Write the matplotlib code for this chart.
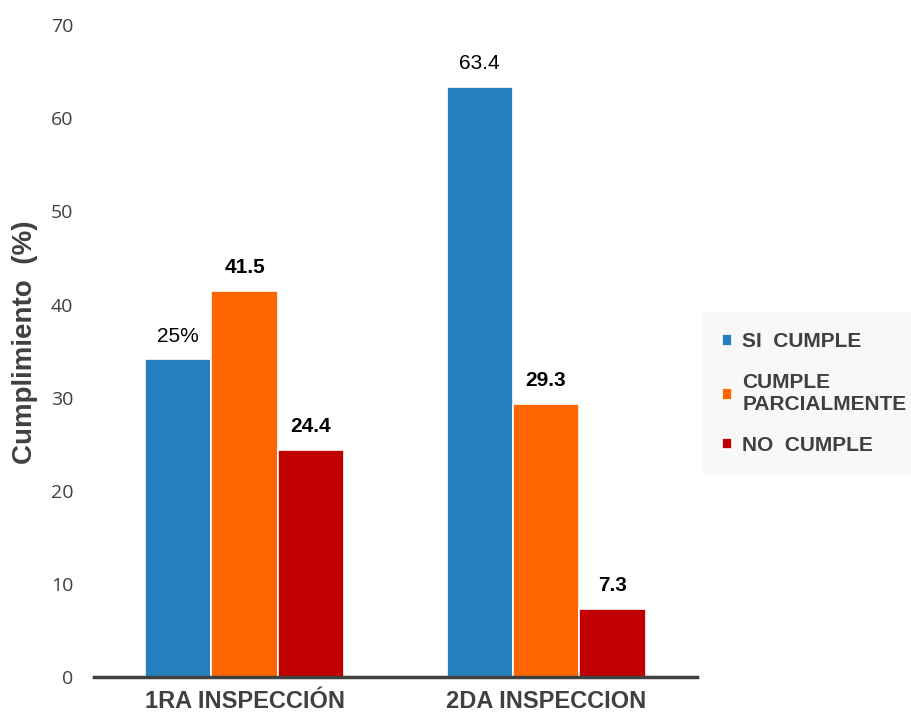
import matplotlib
matplotlib.use("Agg")
import matplotlib.pyplot as plt
import numpy as np

categories = ["1RA INSPECCIÓN", "2DA INSPECCION"]
series_names = ["SI  CUMPLE", "CUMPLE\nPARCIALMENTE", "NO  CUMPLE"]
si_cumple = [34.1, 63.4]
parcial = [41.5, 29.3]
no_cumple = [24.4, 7.3]
labels_si = ["25%", "63.4"]
labels_parcial = ["41.5", "29.3"]
labels_no = ["24.4", "7.3"]
yticks = [0, 10, 20, 30, 40, 50, 60, 70]

colors = ["#2481bd", "#ff6600", "#c00000"]
grey = "#404040"

fig = plt.figure(figsize=(9.12, 7.18), dpi=100)
ax = fig.add_axes([0.103, 0.057, 0.661, 0.908])

x = np.arange(len(categories))
w = 0.22
series = [si_cumple, parcial, no_cumple]
labels = [labels_si, labels_parcial, labels_no]
bold = [[False, False], [True, True], [True, True]]
for i, (vals, lab) in enumerate(zip(series, labels)):
    b = ax.bar(x + (i - 1) * w, vals, w, color=colors[i], edgecolor="white",
               linewidth=1.2, label=series_names[i], zorder=2)
    for j, (rect, t) in enumerate(zip(b, lab)):
        ax.annotate(t, (rect.get_x() + rect.get_width() / 2, rect.get_height()),
                    xytext=(0, 10), textcoords="offset points", ha="center", va="bottom",
                    fontsize=15, fontweight="bold" if bold[i][j] else "normal",
                    color="black", family="Liberation Sans")

ax.set_xlim(-0.5, 1.5)
ax.set_ylim(0, 70)
ax.set_yticks(yticks)
ax.set_yticklabels([str(t) for t in yticks], fontsize=14, color=grey, family="Open Sans")
ax.set_xticks(x)
ax.set_xticklabels(categories, fontsize=17, fontweight="bold", color=grey, family="Liberation Sans")
ax.tick_params(axis="both", length=0)
ax.tick_params(axis="y", pad=15)
ax.tick_params(axis="x", pad=9)
for s in ["top", "right", "left"]:
    ax.spines[s].set_visible(False)
ax.spines["bottom"].set_color(grey)
ax.spines["bottom"].set_linewidth(2.5)
ax.spines["bottom"].set_zorder(3)

ax.set_ylabel("Cumplimiento  (%)", fontsize=20, fontweight="bold", color=grey,
              family="Liberation Sans")
ax.yaxis.set_label_coords(-0.093, 0.514)

leg = ax.legend(loc="center left", bbox_to_anchor=(1.01, 0.435), frameon=True,
                prop={"family": "Liberation Sans", "weight": "bold", "size": 15},
                handlelength=0.5, handleheight=0.5, handletextpad=0.5,
                labelspacing=1.05, borderpad=0.9, borderaxespad=0, fancybox=False)
leg.get_frame().set_facecolor("#f7f7f7")
leg.get_frame().set_edgecolor("#f7f7f7")
for t in leg.get_texts():
    t.set_color(grey)

fig.savefig("out.png", dpi=100)
